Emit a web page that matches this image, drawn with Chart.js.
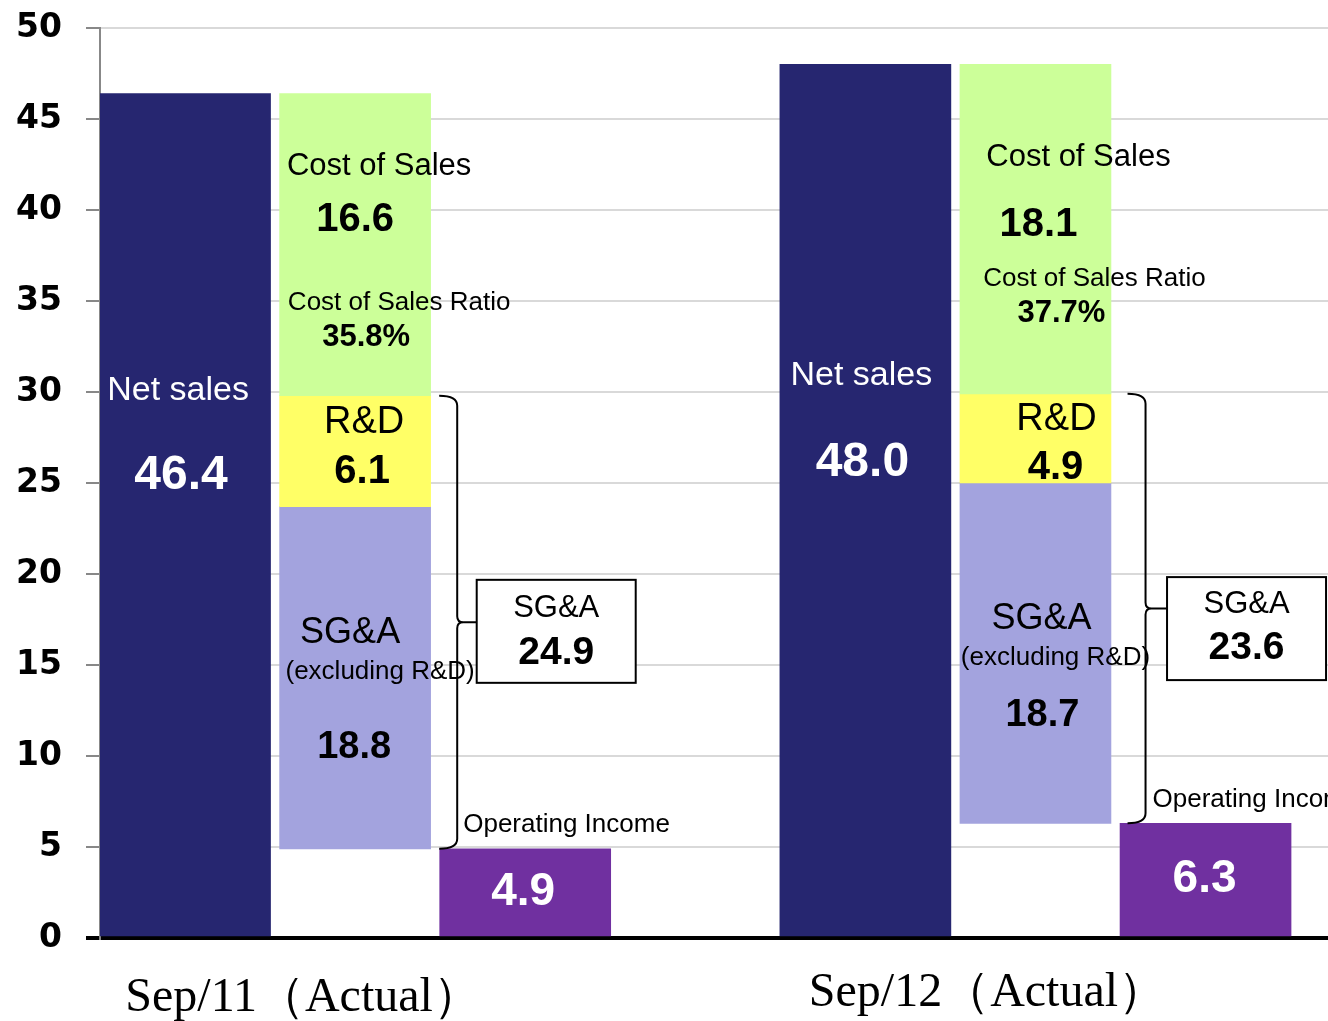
<!DOCTYPE html>
<html>
<head>
<meta charset="utf-8">
<script src="https://cdn.jsdelivr.net/npm/chart.js@4.4.0/dist/chart.umd.min.js"></script>
<style>
  html, body { margin: 0; padding: 0; background: #ffffff; }
  #chart { display: block; }
</style>
</head>
<body>
<canvas id="chart" width="1328" height="1021"></canvas>
<script>
// Data (billions)
const periods = ["Sep/11（Actual）", "Sep/12（Actual）"];
const netSales = [46.4, 48.0];
const costOfSales = [16.6, 18.1];
const researchDev = [6.1, 4.9];
const sgaExclRD = [18.8, 18.7];
const operatingIncome = [4.9, 6.3];
const yTickMax = 50;
const yTickStep = 5;

// Each period uses 3 slots (net sales, cost breakdown, operating income) + a gap slot
const SLOTS_PER_PERIOD = 4;
const slotOf = (p, k) => p * SLOTS_PER_PERIOD + k;

// Derived floating bar ranges
const costBottom = netSales.map((v, i) => v - costOfSales[i]);
const rdBottom = costBottom.map((v, i) => v - researchDev[i]);
const sgaBottom = rdBottom.map((v, i) => v - sgaExclRD[i]);

const colors = {
  netSales: "#262670",
  cost: "#ccff99",
  rd: "#ffff66",
  sga: "#a3a3de",
  op: "#7030a0",
};

// Text placement: [slot in period, dx px from slot centre, y in axis units]
const textLayout = [
  {
    netLabel: [0, -7, 30.05], netValue: [0, -4, 25.4],
    costLabel: [1, 24, 42.4], costValue: [1, 0, 39.45],
    ratioLabel: [1, 44, 34.9], ratioValue: [1, 11, 33.0],
    rdLabel: [1, 9, 28.3], rdValue: [1, 7, 25.6],
    sgaLabel: [1, -5, 16.75], sgaSub: [1, 25, 14.6], sgaValue: [1, -1, 10.45],
    opLabel: [2, -62, 6.2], opValue: [2, -2, 2.5],
    boxTitle: [2, 31, 18.1], boxValue: [2, 31, 15.65], box: [2, 31, 16.85],
    brace: -68, period: [1, -52, 60],
  },
  {
    netLabel: [0, -4, 30.9], netValue: [0, -3, 26.1],
    costLabel: [1, 43, 42.9], costValue: [1, 3, 39.2],
    ratioLabel: [1, 59, 36.2], ratioValue: [1, 26, 34.3],
    rdLabel: [1, 21, 28.5], rdValue: [1, 20, 25.8],
    sgaLabel: [1, 6, 17.5], sgaSub: [1, 20, 15.4], sgaValue: [1, 7, 12.2],
    opLabel: [2, -53, 7.6], opValue: [2, -1, 3.2],
    boxTitle: [2, 41, 18.35], boxValue: [2, 41, 15.9], box: [2, 41, 17.0],
    brace: -60, period: [1, -48, 55],
  },
];

const SANS = "'Liberation Sans', Arial, sans-serif";
const SERIF = "'Liberation Serif', 'Times New Roman', serif";

function series(values, k) {
  return values.map((v, p) => ({ x: slotOf(p, k), y: v }));
}

const datasets = [
  {
    label: "Net sales",
    data: series(netSales.map((v) => [0, v]), 0),
    backgroundColor: colors.netSales,
    barThickness: 171,
  },
  {
    label: "Cost of Sales",
    data: series(netSales.map((v, i) => [costBottom[i], v]), 1),
    backgroundColor: colors.cost,
    barThickness: 151,
  },
  {
    label: "R&D",
    data: series(costBottom.map((v, i) => [rdBottom[i], v]), 1),
    backgroundColor: colors.rd,
    barThickness: 151,
  },
  {
    label: "SG&A (excluding R&D)",
    data: series(rdBottom.map((v, i) => [sgaBottom[i], v]), 1),
    backgroundColor: colors.sga,
    barThickness: 151,
  },
  {
    label: "Operating Income",
    data: series(operatingIncome.map((v) => [0, v]), 2),
    backgroundColor: colors.op,
    barThickness: 171,
  },
].map((d) => ({ ...d, grouped: false, borderWidth: 0 }));

// Draws labels, braces and SG&A boxes on top of the bars
const annotationPlugin = {
  id: "annotations",
  afterDatasetsDraw(chart) {
    const { ctx, scales } = chart;
    const xs = scales.x, ys = scales.y;

    const pos = (p, spec) => ({
      x: xs.getPixelForValue(slotOf(p, spec[0])) + spec[1],
      y: ys.getPixelForValue(spec[2]),
    });

    function text(str, pt, font, color, align) {
      ctx.save();
      ctx.font = font;
      ctx.fillStyle = color || "#000";
      ctx.textAlign = align || "center";
      ctx.textBaseline = "middle";
      ctx.fillText(str, pt.x, pt.y);
      ctx.restore();
    }

    periods.forEach((period, p) => {
      const L = textLayout[p];
      const ratio = ((costOfSales[p] / netSales[p]) * 100).toFixed(1) + "%";
      const sgaTotal = (researchDev[p] + sgaExclRD[p]).toFixed(1);

      text("Net sales", pos(p, L.netLabel), "34px " + SANS, "#fff");
      text(netSales[p].toFixed(1), pos(p, L.netValue), "bold 48px " + SANS, "#fff");
      text("Cost of Sales", pos(p, L.costLabel), "31px " + SANS);
      text(costOfSales[p].toFixed(1), pos(p, L.costValue), "bold 40px " + SANS);
      text("Cost of Sales Ratio", pos(p, L.ratioLabel), "26px " + SANS);
      text(ratio, pos(p, L.ratioValue), "bold 31px " + SANS);
      text("R&D", pos(p, L.rdLabel), "38px " + SANS);
      text(researchDev[p].toFixed(1), pos(p, L.rdValue), "bold 40px " + SANS);
      text("SG&A", pos(p, L.sgaLabel), "36px " + SANS);
      text("(excluding R&D)", pos(p, L.sgaSub), "26px " + SANS);
      text(sgaExclRD[p].toFixed(1), pos(p, L.sgaValue), "bold 38px " + SANS);
      text("Operating Income", pos(p, L.opLabel), "26px " + SANS, "#000", "left");
      text(operatingIncome[p].toFixed(1), pos(p, L.opValue), "bold 46px " + SANS, "#fff");

      // brace from top of R&D down to top of operating income
      const bx = xs.getPixelForValue(slotOf(p, 2)) + L.brace;
      const yTop = ys.getPixelForValue(costBottom[p]);
      const yBot = ys.getPixelForValue(operatingIncome[p]);
      const yMid = (yTop + yBot) / 2;
      const box = pos(p, L.box);
      const boxW = 159, boxH = 103;

      ctx.save();
      ctx.strokeStyle = "#000";
      ctx.lineWidth = 2;
      ctx.beginPath();
      ctx.moveTo(bx - 18, yTop);
      ctx.quadraticCurveTo(bx, yTop, bx, yTop + 10);
      ctx.lineTo(bx, yMid - 6);
      ctx.quadraticCurveTo(bx, yMid, bx + 6, yMid);
      ctx.quadraticCurveTo(bx, yMid, bx, yMid + 6);
      ctx.lineTo(bx, yBot - 10);
      ctx.quadraticCurveTo(bx, yBot, bx - 18, yBot);
      ctx.moveTo(bx + 6, yMid);
      ctx.lineTo(box.x - boxW / 2, yMid);
      ctx.stroke();

      ctx.fillStyle = "#fff";
      ctx.fillRect(box.x - boxW / 2, box.y - boxH / 2, boxW, boxH);
      ctx.strokeRect(box.x - boxW / 2, box.y - boxH / 2, boxW, boxH);
      ctx.restore();

      text("SG&A", pos(p, L.boxTitle), "31px " + SANS);
      text(sgaTotal, pos(p, L.boxValue), "bold 39px " + SANS);

      // period label under the axis
      const px = xs.getPixelForValue(slotOf(p, L.period[0])) + L.period[1];
      text(period, { x: px, y: chart.chartArea.bottom + L.period[2] }, "48px " + SERIF);
    });
  },
};

new Chart(document.getElementById("chart").getContext("2d"), {
  type: "bar",
  data: { datasets: datasets },
  options: {
    responsive: false,
    animation: false,
    layout: { padding: { top: 28, right: 0, left: 0, bottom: 0 } },
    scales: {
      x: {
        type: "linear",
        offset: false,
        min: -0.5,
        max: periods.length * SLOTS_PER_PERIOD - 1.28,
        grid: { display: false },
        border: { display: false },
        ticks: { display: false },
        afterFit: (scale) => { scale.height = 83; },
      },
      y: {
        min: 0,
        max: yTickMax,
        ticks: {
          stepSize: yTickStep,
          color: "#000",
          padding: 24,
          font: { family: "'DejaVu Sans', sans-serif", size: 33, weight: "bold" },
        },
        grid: {
          color: (c) => (c.tick && c.tick.value === 0 ? "#000" : "#d9d9d9"),
          lineWidth: (c) => (c.tick && c.tick.value === 0 ? 4 : 2),
          tickColor: (c) => (c.tick && c.tick.value === 0 ? "#000" : "#888"),
          tickLength: 14,
        },
        border: { color: "#888", width: 2 },
        afterFit: (scale) => {
          scale.width = 100;
          scale.paddingTop = 0;
          scale.paddingBottom = 0;
        },
      },
    },
    plugins: {
      legend: { display: false },
      tooltip: { enabled: false },
    },
  },
  plugins: [annotationPlugin],
});
</script>
</body>
</html>
